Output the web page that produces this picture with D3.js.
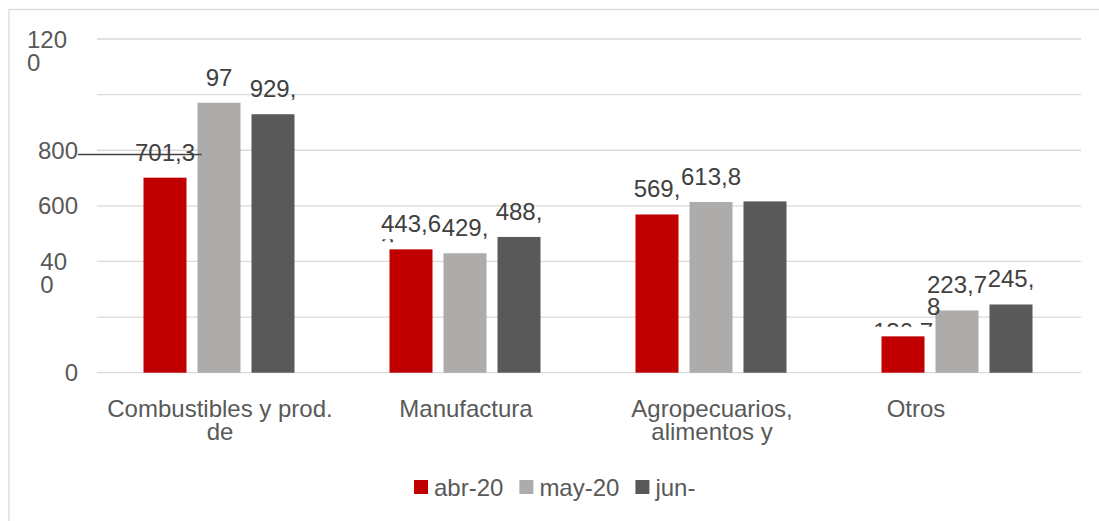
<!DOCTYPE html>
<html>
<head>
<meta charset="utf-8">
<script src="https://cdn.jsdelivr.net/npm/d3@7"></script>
<style>
  html, body { margin: 0; padding: 0; background: #fff; }
  svg { display: block; font-family: "Liberation Sans", Arial, sans-serif; }
</style>
</head>
<body>
<svg id="chart" width="1099" height="521"></svg>
<script>
// ---- data ----
const categories = ["Combustibles y prod.\nde", "Manufactura", "Agropecuarios,\nalimentos y", "Otros"];
const seriesNames = ["abr-20", "may-20", "jun-"];
const abr20 = [701.3, 443.6, 569.0, 130.7];
const may20 = [970.8, 429.5, 613.8, 223.78];
const jun20 = [929.5, 488.2, 616.0, 245.3];
const abrLabels = ["701,3", "443,6\n3", "569,", "130,7"];
const mayLabels = ["97", "429,", "613,8", "223,7\n8"];
const junLabels = ["929,", "488,", "", "245,"];
const yTicks = [0, 200, 400, 600, 800, 1000, 1200];
const yTickLabels = ["0", "", "40\n0", "600", "800", "", "120\n0"];
const colors = ["#c00000", "#adacab", "#595959"];
// labels that sit mostly behind their bar in the reference
const coveredLabels = ["abr-20|3"];
const coveredWraps = ["abr-20|1"];

const seriesValues = [abr20, may20, jun20];
const seriesLabels = [abrLabels, mayLabels, junLabels];

const FS = 24;
const svg = d3.select("#chart");
const defs = svg.append("defs");
const plot = { left: 97, right: 1081, top: 39, bottom: 372.7 };

// outer border
svg.append("rect").attr("x", 9).attr("y", 9.5).attr("width", 1100).attr("height", 530)
  .attr("fill", "none").attr("stroke", "#d9d9d9").attr("stroke-width", 1.3);

const y = d3.scaleLinear().domain([0, 1200]).range([plot.bottom, plot.top]);
const x0 = d3.scaleBand().domain(d3.range(categories.length)).range([plot.left, plot.right]).padding(0);
const groupW = 151;
const x1 = d3.scaleBand().domain(seriesNames).range([0, groupW]).paddingInner(11 / 54).paddingOuter(0);
const groupStart = i => x0(i) + x0.bandwidth() / 2 - groupW / 2 - 1;

// gridlines
svg.append("g").selectAll("line").data(yTicks).join("line")
  .attr("x1", plot.left).attr("x2", plot.right)
  .attr("y1", d => y(d)).attr("y2", d => y(d))
  .attr("stroke", "#d9d9d9").attr("stroke-width", 1.3);

// y tick labels
const tickG = svg.append("g").attr("font-size", FS).attr("fill", "#595959");
yTicks.forEach((t, i) => {
  const lab = yTickLabels[i];
  if (!lab) return;
  const lines = lab.split("\n");
  if (lines.length === 1) {
    tickG.append("text").attr("x", 78).attr("y", y(t)).attr("dy", "0.36em")
      .attr("text-anchor", "end").text(lines[0]);
  } else {
    const txt = tickG.append("text").attr("y", y(t)).attr("dy", "0.36em");
    const first = txt.append("tspan").text(lines[0]);
    const w = first.node().getComputedTextLength();
    const xs = 67 - w;
    txt.attr("x", xs);
    first.attr("x", xs);
    txt.append("tspan").attr("x", xs).attr("dy", 23).text(lines[1]);
  }
});

// data labels: first line centred over the bar, wrapped lines left-aligned with it
const lblG = svg.append("g").attr("font-size", FS).attr("fill", "#404040");
const overG = svg.append("g").attr("font-size", FS).attr("fill", "#404040");
let clipId = 0;
seriesNames.forEach((s, si) => {
  seriesValues[si].forEach((v, ci) => {
    const lab = seriesLabels[si][ci];
    if (!lab) return;
    const key = s + "|" + ci;
    const cx = groupStart(ci) + x1(s) + x1.bandwidth() / 2;
    const top = y(v);
    const lines = lab.split("\n");
    const hidden = coveredLabels.includes(key);
    const base = hidden ? top + 4 : top - 17;
    const t1 = lblG.append("text").attr("x", cx).attr("y", base).attr("text-anchor", "middle").text(lines[0]);
    const w = t1.node().getComputedTextLength();
    if (hidden) {
      const id = "clip" + (clipId++);
      defs.append("clipPath").attr("id", id).append("rect")
        .attr("x", cx - 40).attr("y", top - 14).attr("width", 80).attr("height", 4.5);
      t1.attr("clip-path", "url(#" + id + ")");
    }
    if (lines.length > 1) {
      const wx = cx - w / 2, wy = base + 22;
      if (coveredWraps.includes(key)) {
        const t2 = lblG.append("text").attr("x", wx).attr("y", wy).text(lines[1]);
        const id = "clip" + (clipId++);
        defs.append("clipPath").attr("id", id).append("rect")
          .attr("x", wx - 5).attr("y", top - 10).attr("width", 40).attr("height", 3);
        t2.attr("clip-path", "url(#" + id + ")");
      } else {
        overG.append("text").attr("x", wx).attr("y", wy).text(lines[1]);
      }
    }
  });
});

// bars
const barG = svg.append("g");
seriesNames.forEach((s, si) => {
  barG.append("g").selectAll("rect").data(seriesValues[si]).join("rect")
    .attr("x", (d, ci) => groupStart(ci) + x1(s))
    .attr("y", d => y(d))
    .attr("width", x1.bandwidth())
    .attr("height", d => y(0) - y(d))
    .attr("fill", colors[si]);
});
overG.raise();

// stray leader line across first label
const leaderVal = 785;
svg.append("line")
  .attr("x1", 78).attr("x2", groupStart(0) + x1("may-20") + 4)
  .attr("y1", y(leaderVal)).attr("y2", y(leaderVal))
  .attr("stroke", "#404040").attr("stroke-width", 1.5);

// category labels
const catG = svg.append("g").attr("font-size", FS).attr("fill", "#595959").attr("text-anchor", "middle");
categories.forEach((c, i) => {
  const cx = x0(i) + x0.bandwidth() / 2;
  const t = catG.append("text").attr("x", cx).attr("y", 417);
  c.split("\n").forEach((ln, li) => {
    t.append("tspan").attr("x", cx).attr("dx", c === "Otros" ? -42 : 0)
      .attr("dy", li === 0 ? 0 : 22.5).text(ln);
  });
});

// legend
const leg = svg.append("g").attr("font-size", FS).attr("fill", "#595959");
let lx = 414;
seriesNames.forEach((s, si) => {
  leg.append("rect").attr("x", lx).attr("y", 480).attr("width", 14).attr("height", 14).attr("fill", colors[si]);
  const t = leg.append("text").attr("x", lx + 20).attr("y", 496).text(s);
  const w = t.node().getComputedTextLength();
  lx += 20 + w + 16;
});
</script>
</body>
</html>
